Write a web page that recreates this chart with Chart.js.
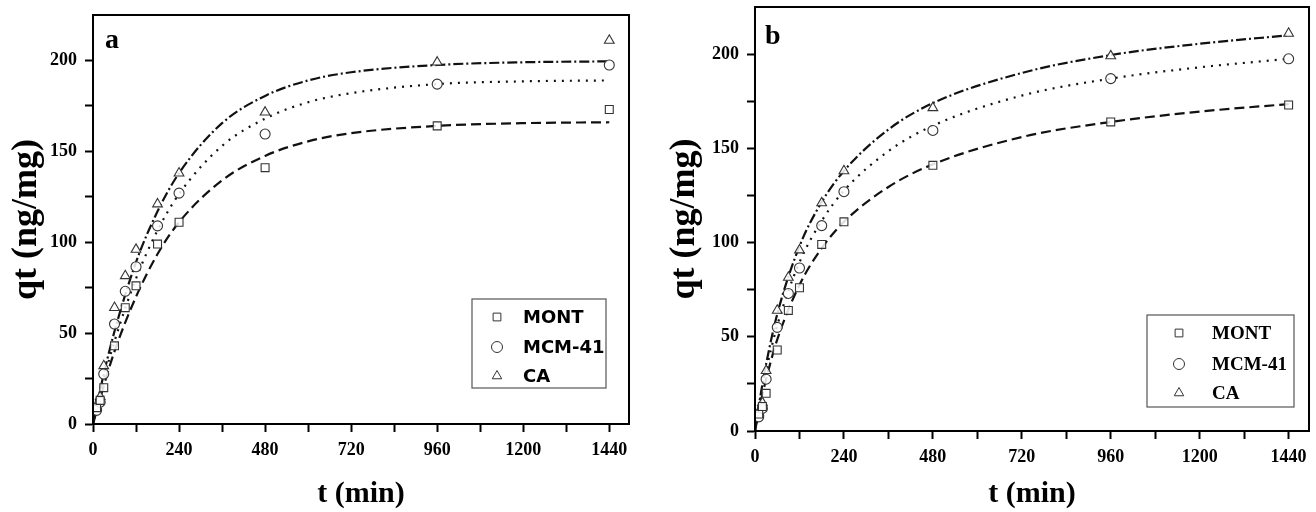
<!DOCTYPE html>
<html lang="en">
<head>
<meta charset="UTF-8">
<title>Adsorption kinetics</title>
<script src="https://cdn.jsdelivr.net/npm/chart.js"></script>
<style>
  body { margin: 0; background: #fff; }
  .panel { position: absolute; top: 0; height: 512px; }
  #pa { left: 0; width: 650px; }
  #pb { left: 658px; width: 658px; }
</style>
</head>
<body>

<div class="panel" id="pa"><canvas id="chartA"></canvas></div>
<div class="panel" id="pb"><canvas id="chartB"></canvas></div>

<script>
// measured data (same in both panels)
const seriesNames = ['MONT', 'MCM-41', 'CA'];
const times = [10, 20, 30, 60, 90, 120, 180, 240, 480, 960, 1440];
const montQt = [9, 13, 20, 43, 64, 76, 99, 111, 141, 164, 173];
const mcmQt = [7.5, 12, 27.5, 55, 73, 86.5, 109, 127, 159.5, 187, 197.5];
const caQt = [10, 15, 32, 64, 81.5, 96, 121, 138, 171.5, 199, 211];

// fitted curves, panel a
const fitTimesA = [0, 30, 60, 120, 180, 240, 360, 480, 600, 720, 960, 1200, 1440];
const montFitA = [0, 21, 40, 70, 93.5, 111, 134, 147.5, 155.5, 160, 164, 165.5, 166];
const mcmFitA = [0, 24.5, 45.5, 80, 106.5, 126.5, 153, 168, 177, 182, 187, 188.5, 189];
const caFitA = [0, 27.5, 51, 89, 117, 138, 165.5, 180.5, 189, 193.5, 197.5, 199, 199.5];

// fitted curves, panel b
const fitTimesB = [0, 15, 30, 60, 120, 180, 240, 360, 480, 720, 960, 1200, 1440];
const montFitB = [0, 15, 27.5, 48.5, 77.5, 97, 111, 129.5, 141.5, 156, 164, 169.5, 173.5];
const mcmFitB = [0, 17.5, 32, 56, 89.5, 111.5, 127.5, 148.5, 162, 178, 187, 193, 197.5];
const caFitB = [0, 19, 35.5, 62, 98, 121.5, 138, 160, 174, 190, 199.5, 205.5, 210];

const xTickLabels = [0, 240, 480, 720, 960, 1200, 1440];
const yTickLabels = [0, 50, 100, 150, 200];

const SERIF = '"Liberation Serif", "Times New Roman", serif';
const pointStyles = ['rect', 'circle', 'triangle'];
const lineDashes = [[10, 5], [2, 6], [10, 3, 2, 3]];

function xy(xs, ys) {
  return xs.map((x, i) => ({ x: x, y: ys[i] }));
}

function pickLabel(list, v) {
  const t = list.find(n => Math.abs(n - v) < 0.5);
  return t === undefined ? '' : String(t);
}

// frame, panel letter and boxed legend
const decoPlugin = {
  id: 'deco',
  afterDraw(chart, args, opts) {
    const ctx = chart.ctx;
    const a = chart.chartArea;
    ctx.save();
    ctx.strokeStyle = '#000';
    ctx.lineWidth = 2;
    ctx.strokeRect(a.left, a.top, a.right - a.left, a.bottom - a.top);

    ctx.fillStyle = '#000';
    ctx.font = 'bold 28px ' + SERIF;
    ctx.textBaseline = 'alphabetic';
    ctx.fillText(opts.letter, a.left + opts.letterX, a.top + opts.letterY);

    const lg = opts.legend;
    ctx.strokeStyle = '#555';
    ctx.lineWidth = 1.2;
    ctx.strokeRect(a.left + lg.x, a.top + lg.y, lg.w, lg.h);
    ctx.font = lg.font;
    ctx.textBaseline = 'middle';
    for (let i = 0; i < 3; i++) {
      const ds = chart.data.datasets[i];
      const ry = a.top + lg.rows[i];
      ctx.strokeStyle = '#333';
      ctx.fillStyle = '#fff';
      ctx.lineWidth = 1;
      Chart.helpers.drawPoint(ctx, { pointStyle: ds.pointStyle, radius: 5.5, rotation: 0, borderWidth: 1 }, a.left + lg.markX, ry);
      ctx.fillStyle = '#000';
      ctx.fillText(ds.label, a.left + lg.textX, ry + 1);
    }
    ctx.restore();
  }
};

function makeChart(id, fitTimes, fits, geo, deco) {
  const qts = [montQt, mcmQt, caQt];
  const datasets = [];
  for (let i = 0; i < 3; i++) {
    datasets.push({
      label: seriesNames[i],
      data: xy(times, qts[i]),
      showLine: false,
      pointStyle: pointStyles[i],
      pointRadius: i === 1 ? 5 : 5.6,
      pointBorderWidth: 1.1,
      pointBorderColor: '#333',
      pointBackgroundColor: 'rgba(255,255,255,0.85)'
    });
  }
  for (let i = 0; i < 3; i++) {
    datasets.push({
      label: seriesNames[i] + ' fit',
      data: xy(fitTimes, fits[i]),
      showLine: true,
      pointRadius: 0,
      borderColor: '#111',
      borderWidth: 2.2,
      borderDash: lineDashes[i],
      cubicInterpolationMode: 'monotone'
    });
  }

  return new Chart(document.getElementById(id), {
    type: 'scatter',
    data: { datasets: datasets },
    options: {
      responsive: true,
      maintainAspectRatio: false,
      animation: false,
      events: [],
      layout: { padding: { left: 3, top: geo.top, right: geo.right, bottom: 0 } },
      plugins: {
        legend: { display: false },
        tooltip: { enabled: false },
        deco: deco
      },
      scales: {
        x: {
          type: 'linear',
          min: 0,
          max: 1495,
          border: { display: true, color: '#000', width: 2 },
          grid: { display: true, drawOnChartArea: false, drawTicks: true, tickLength: 8, tickColor: '#000', tickWidth: 2 },
          ticks: {
            stepSize: 120,
            includeBounds: false,
            autoSkip: false,
            maxRotation: 0,
            padding: 8,
            color: '#000',
            font: { family: SERIF, weight: 'bold', size: 18 },
            callback: v => pickLabel(xTickLabels, v)
          },
          title: {
            display: true,
            text: 't (min)',
            color: '#000',
            font: { family: SERIF, weight: 'bold', size: 30 },
            padding: { top: 0, bottom: 0 }
          },
          afterFit: s => { s.height = geo.xAxisH; s.paddingLeft = 0; s.paddingRight = 0; }
        },
        y: {
          type: 'linear',
          min: 0,
          max: 225,
          border: { display: true, color: '#000', width: 2 },
          grid: {
            display: true, drawOnChartArea: false, drawTicks: true, tickLength: 8, tickWidth: 2,
            tickColor: c => (c.tick && c.tick.value > 210) ? 'rgba(0,0,0,0)' : '#000'
          },
          ticks: {
            stepSize: 25,
            autoSkip: false,
            padding: 8,
            color: '#000',
            font: { family: SERIF, weight: 'bold', size: 18 },
            callback: v => pickLabel(yTickLabels, v)
          },
          title: {
            display: true,
            text: 'qt (ng/mg)',
            color: '#000',
            font: { family: SERIF, weight: 'bold', size: 36 },
            padding: { top: 2, bottom: 0 }
          },
          afterFit: s => { s.width = geo.yAxisW; s.paddingTop = 0; s.paddingBottom = 0; }
        }
      }
    },
    plugins: [decoPlugin]
  });
}

makeChart('chartA', fitTimesA, [montFitA, mcmFitA, caFitA],
  { top: 15, right: 21, yAxisW: 90, xAxisH: 88 },
  {
    letter: 'a', letterX: 12, letterY: 33,
    legend: { x: 379, y: 284, w: 134, h: 89, markX: 404, textX: 430, rows: [302, 332, 361],
              font: 'bold 18px "DejaVu Sans", Verdana, sans-serif' }
  });

makeChart('chartB', fitTimesB, [montFitB, mcmFitB, caFitB],
  { top: 7, right: 7, yAxisW: 94, xAxisH: 81 },
  {
    letter: 'b', letterX: 10, letterY: 37,
    legend: { x: 392, y: 308, w: 147, h: 92, markX: 424, textX: 457, rows: [326, 357, 386],
              font: 'bold 19px ' + SERIF }
  });
</script>

</body>
</html>
